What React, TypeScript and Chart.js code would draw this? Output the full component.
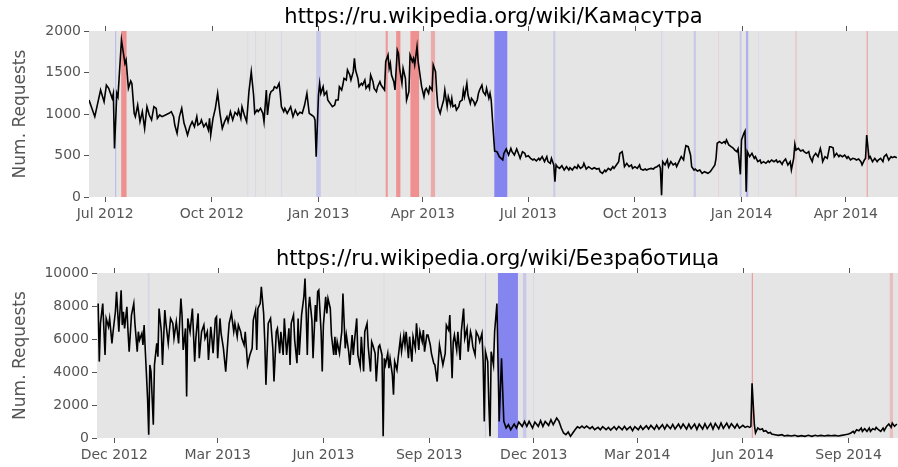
import React, { useEffect, useRef } from "react";
import { Chart, registerables } from "chart.js";

Chart.register(...registerables);

const FONT = '"DejaVu Sans", "Liberation Sans", sans-serif';

const Y_LABEL = "Num. Requests";

// ---------- top panel: days since 2012-07-01 ----------
const TOP_TITLE = "https://ru.wikipedia.org/wiki/Камасутра";
const TOP_X_RANGE = [-14, 684];
const TOP_TICK_DAYS = [0, 92, 184, 274, 365, 457, 549, 639];
const TOP_TICK_LABELS = ["Jul 2012", "Oct 2012", "Jan 2013", "Apr 2013", "Jul 2013", "Oct 2013", "Jan 2014", "Apr 2014"];
const TOP_Y_TICKS = [0, 500, 1000, 1500, 2000];
const TOP_SERIES: [number, number][] = [
  [-14, 1169], [-9, 968], [-4, 1289], [-1, 1149], [1, 1349], [3, 1309], [6, 1189], [7, 1249], [8, 586], [10, 1249],
  [11, 1209], [14, 1892], [17, 1610], [18, 1651], [20, 1309], [22, 1398], [23, 1369], [25, 1008], [26, 968], [28, 1108],
  [30, 908], [32, 1028], [34, 827], [36, 1088], [38, 988], [40, 928], [42, 1088], [44, 1068], [45, 948], [47, 988],
  [49, 968], [52, 988], [55, 1008], [57, 1028], [59, 968], [60, 867], [62, 767], [64, 968], [66, 1068], [68, 888],
  [69, 847], [71, 747], [73, 847], [75, 908], [77, 847], [79, 968], [80, 867], [82, 888], [83, 928], [85, 847],
  [87, 888], [89, 807], [90, 948], [91, 747], [93, 948], [95, 1068], [97, 1249], [99, 1008], [101, 827], [103, 908],
  [105, 968], [106, 908], [108, 1028], [110, 928], [112, 1020], [114, 988], [115, 1048], [117, 948], [118, 1088], [120, 988],
  [122, 908], [124, 1269], [126, 1510], [128, 1229], [129, 1008], [131, 1048], [132, 1028], [134, 1068], [136, 1008], [137, 908],
  [139, 1289], [140, 988], [142, 1229], [143, 1269], [145, 1289], [146, 1329], [148, 1309], [150, 1369], [151, 1249], [152, 1088],
  [154, 1028], [155, 1068], [157, 1008], [160, 1088], [162, 968], [164, 1048], [166, 988], [168, 1020], [170, 1008], [172, 1108],
  [174, 1249], [176, 1008], [178, 988], [180, 968], [181, 928], [182, 486], [184, 1229], [185, 1369], [186, 1249], [188, 1329],
  [189, 1229], [191, 1269], [192, 1169], [194, 1128], [196, 1088], [198, 1108], [199, 1169], [201, 1169], [202, 1329], [204, 1289],
  [205, 1349], [206, 1430], [208, 1410], [209, 1530], [211, 1470], [212, 1410], [214, 1510], [215, 1671], [216, 1530], [218, 1430],
  [219, 1329], [221, 1369], [222, 1349], [224, 1410], [225, 1309], [227, 1349], [228, 1309], [229, 1470], [231, 1389], [232, 1309],
  [234, 1269], [235, 1329], [237, 1389], [238, 1349], [239, 1329], [241, 1289], [242, 1631], [244, 1711], [245, 1550], [246, 1610],
  [247, 1470], [249, 1389], [250, 1289], [252, 1771], [253, 1731], [254, 1550], [256, 1369], [257, 1550], [259, 1430], [260, 1169],
  [262, 1269], [263, 1711], [265, 1631], [266, 1671], [267, 1590], [269, 1811], [270, 1631], [272, 1430], [273, 1329], [275, 1209],
  [276, 1289], [277, 1309], [279, 1249], [280, 1329], [282, 1289], [283, 1590], [285, 1510], [286, 1269], [287, 1088], [289, 1008],
  [290, 1068], [292, 1169], [293, 1289], [295, 1088], [296, 1209], [298, 1108], [299, 1189], [300, 1088], [302, 1108], [303, 1048],
  [305, 1088], [306, 1149], [308, 1169], [309, 1289], [310, 1209], [312, 1369], [313, 1229], [315, 1128], [316, 1189], [318, 1149],
  [319, 1108], [321, 1169], [322, 1249], [323, 1289], [325, 1349], [326, 1269], [328, 1229], [329, 1309], [331, 1189], [332, 1249],
  [333, 1169], [335, 747], [336, 554], [338, 546], [340, 486], [343, 446], [344, 526], [346, 578], [348, 506], [350, 586],
  [351, 546], [353, 506], [355, 578], [357, 506], [358, 466], [360, 546], [362, 526], [363, 486], [365, 498], [367, 466],
  [369, 446], [370, 458], [372, 434], [374, 466], [375, 446], [377, 486], [379, 426], [381, 486], [382, 426], [384, 406],
  [385, 466], [387, 386], [388, 185], [389, 386], [390, 365], [392, 345], [394, 377], [396, 325], [398, 365], [400, 325],
  [401, 353], [403, 325], [405, 365], [407, 345], [408, 386], [410, 345], [412, 365], [413, 406], [415, 337], [417, 365],
  [419, 345], [420, 337], [422, 353], [424, 337], [426, 345], [427, 305], [429, 285], [431, 325], [432, 305], [434, 345],
  [436, 325], [438, 365], [439, 345], [441, 386], [443, 426], [444, 526], [446, 546], [447, 466], [448, 365], [450, 406],
  [452, 365], [454, 386], [455, 345], [457, 365], [459, 345], [461, 386], [462, 337], [464, 325], [466, 337], [467, 325],
  [469, 337], [471, 345], [473, 337], [474, 353], [476, 365], [478, 386], [479, 345], [480, 20], [481, 426], [483, 386],
  [485, 446], [486, 365], [488, 426], [490, 386], [492, 406], [493, 365], [495, 426], [497, 486], [499, 446], [500, 546],
  [501, 618], [503, 606], [505, 506], [506, 365], [508, 325], [509, 337], [511, 313], [513, 325], [515, 285], [517, 305],
  [520, 285], [522, 305], [524, 345], [526, 386], [527, 466], [528, 647], [530, 667], [532, 647], [534, 667], [535, 647],
  [536, 687], [538, 627], [540, 606], [542, 586], [543, 566], [545, 546], [546, 578], [548, 273], [549, 687], [551, 767],
  [552, 795], [553, 64], [554, 546], [556, 486], [558, 526], [560, 466], [561, 486], [563, 426], [565, 446], [566, 406],
  [568, 426], [570, 406], [572, 434], [573, 418], [575, 446], [577, 426], [579, 446], [580, 418], [582, 434], [584, 394],
  [585, 426], [587, 458], [589, 386], [591, 426], [592, 325], [594, 466], [595, 635], [596, 566], [598, 586], [600, 554],
  [602, 566], [603, 546], [605, 526], [607, 546], [608, 486], [610, 426], [611, 486], [613, 526], [615, 486], [617, 586],
  [618, 526], [619, 426], [621, 486], [623, 466], [625, 606], [626, 606], [628, 594], [629, 486], [631, 526], [633, 486],
  [634, 506], [636, 486], [638, 506], [640, 466], [641, 486], [643, 446], [645, 466], [647, 458], [648, 446], [650, 458],
  [652, 426], [653, 386], [655, 446], [656, 466], [657, 747], [659, 466], [660, 486], [662, 426], [664, 466], [666, 426],
  [667, 446], [669, 466], [671, 426], [672, 486], [674, 514], [676, 446], [678, 486], [679, 474], [681, 486], [683, 474],
];
// [start day, end day, direction, score]
const TOP_BANDS: [number, number, string, number][] = [
  [8.6, 9.3, "low", 0.5], [13.8, 18.4, "high", 0.9], [122.5, 123.2, "low", 0.1], [129.3, 130.0, "low", 0.15],
  [137.8, 138.5, "low", 0.08], [151.8, 152.5, "low", 0.15], [182.0, 186.0, "low", 0.3], [215.5, 216.2, "high", 0.05],
  [242.0, 243.8, "high", 0.8], [251.0, 254.7, "high", 0.85], [263.3, 270.8, "high", 0.9], [280.9, 284.6, "high", 0.6],
  [335.7, 346.9, "low", 1.0], [386.6, 388.3, "low", 0.3], [479.8, 480.6, "low", 0.2], [507.7, 509.6, "low", 0.3],
  [528.8, 529.5, "high", 0.2], [547.4, 549.0, "low", 0.3], [552.8, 554.8, "low", 0.55], [563.2, 563.9, "low", 0.1],
  [595.2, 596.8, "high", 0.25], [657.0, 657.8, "high", 0.8],
];

// ---------- bottom panel: days since 2012-12-01 ----------
const BOTTOM_TITLE = "https://ru.wikipedia.org/wiki/Безработица";
const BOTTOM_X_RANGE = [-15, 682];
const BOTTOM_TICK_DAYS = [0, 90, 182, 274, 365, 455, 547, 639];
const BOTTOM_TICK_LABELS = ["Dec 2012", "Mar 2013", "Jun 2013", "Sep 2013", "Dec 2013", "Mar 2014", "Jun 2014", "Sep 2014"];
const BOTTOM_Y_TICKS = [0, 2000, 4000, 6000, 8000, 10000];
const BOTTOM_SERIES: [number, number][] = [
  [-14, 8152], [-13, 4630], [-12, 6945], [-10, 8152], [-8, 5033], [-7, 7247], [-5, 6744], [-4, 7247], [-2, 5737], [-1, 6442],
  [1, 7650], [2, 8857], [4, 6442], [6, 8958], [7, 6844], [8, 7650], [9, 6643], [11, 7952], [12, 6442], [13, 5234],
  [15, 7448], [17, 8152], [18, 6945], [20, 5234], [21, 6442], [22, 5939], [24, 6341], [25, 5636], [26, 6844], [27, 5334],
  [29, 2416], [30, 201], [31, 4429], [32, 4026], [34, 805], [35, 4429], [37, 5737], [38, 4932], [39, 7851], [41, 6442],
  [42, 4429], [44, 7750], [45, 6945], [47, 5737], [49, 7247], [51, 6945], [52, 6039], [54, 7046], [56, 5737], [58, 8455],
  [59, 7448], [60, 5334], [62, 6643], [63, 2516], [64, 7247], [66, 6442], [68, 7851], [70, 4630], [71, 6039], [73, 7549],
  [74, 4831], [76, 6442], [78, 6844], [79, 6039], [81, 6442], [82, 4731], [84, 6744], [85, 6039], [86, 5133], [88, 7247],
  [89, 7348], [90, 4831], [92, 7247], [93, 6341], [95, 5435], [97, 4026], [99, 6039], [100, 6945], [102, 7549], [104, 6442],
  [105, 6945], [107, 6140], [108, 6844], [110, 6442], [111, 6039], [113, 5636], [114, 6442], [116, 4429], [118, 5033], [120, 5435],
  [121, 7146], [123, 7750], [124, 5334], [125, 7851], [127, 8152], [128, 9159], [130, 7549], [131, 5838], [132, 3221], [134, 6945],
  [136, 7247], [138, 5435], [139, 3422], [141, 6442], [142, 6643], [144, 5133], [145, 6442], [147, 5033], [148, 7247], [150, 5033],
  [152, 6643], [153, 4429], [154, 6945], [156, 7448], [157, 5939], [159, 4530], [160, 7247], [161, 5033], [163, 7448], [165, 8555],
  [166, 9662], [167, 7650], [168, 5033], [169, 7750], [170, 8555], [172, 7146], [173, 4831], [175, 8052], [176, 7046], [177, 8857],
  [178, 8958], [180, 6442], [181, 4026], [182, 6844], [184, 8555], [185, 7549], [186, 8455], [188, 7851], [189, 6240], [191, 5033],
  [192, 6140], [193, 5033], [194, 5838], [196, 5133], [197, 5838], [198, 6442], [199, 8756], [201, 5435], [202, 6240], [204, 5234],
  [205, 4429], [207, 6240], [208, 5033], [209, 5838], [211, 7247], [212, 5033], [214, 4328], [215, 6140], [217, 4026], [218, 6442],
  [220, 6945], [221, 5536], [223, 4026], [224, 5838], [225, 5636], [227, 5133], [228, 3422], [230, 5536], [231, 5636], [233, 5033],
  [234, 101], [235, 4831], [236, 4429], [238, 5133], [239, 4227], [240, 4831], [242, 3825], [243, 2617], [244, 4630], [246, 4127],
  [247, 4831], [249, 6039], [250, 5234], [252, 6240], [253, 5636], [254, 6442], [256, 4831], [257, 6140], [259, 4630], [260, 6140],
  [262, 5435], [263, 6945], [265, 5334], [266, 6442], [268, 5838], [269, 6542], [270, 5234], [272, 6240], [273, 6240], [275, 5636],
  [276, 5133], [278, 4530], [279, 4429], [281, 3422], [282, 4630], [283, 5636], [285, 4831], [286, 4429], [288, 5133], [289, 6844],
  [291, 6542], [292, 7448], [294, 3623], [295, 5838], [296, 6240], [298, 5334], [299, 6442], [301, 4731], [302, 6442], [304, 7851],
  [305, 6039], [307, 6643], [308, 5234], [310, 6442], [311, 6140], [312, 5536], [314, 5033], [315, 6442], [317, 6140], [318, 5838],
  [320, 6341], [321, 4630], [322, 1007], [323, 5234], [325, 4630], [326, 2013], [327, 101], [328, 5234], [330, 4429], [331, 6442],
  [333, 8152], [334, 4429], [335, 1007], [337, 4831], [339, 1007], [341, 604], [343, 805], [345, 503], [348, 845], [350, 604],
  [352, 966], [355, 705], [357, 1007], [359, 705], [361, 1007], [364, 604], [366, 966], [369, 705], [371, 1047], [373, 705],
  [375, 1007], [378, 765], [380, 1107], [382, 805], [385, 1208], [387, 1007], [389, 604], [391, 302], [393, 201], [395, 362],
  [397, 101], [399, 302], [401, 503], [403, 684], [405, 604], [407, 725], [409, 604], [411, 725], [414, 564], [416, 684],
  [418, 503], [421, 644], [423, 503], [425, 684], [428, 503], [430, 644], [432, 483], [435, 684], [437, 503], [439, 705],
  [442, 503], [444, 705], [446, 503], [449, 684], [451, 443], [453, 684], [456, 503], [458, 725], [460, 523], [463, 745],
  [465, 543], [467, 765], [470, 523], [472, 785], [474, 543], [477, 805], [479, 543], [481, 805], [484, 563], [486, 825],
  [488, 543], [491, 845], [493, 583], [495, 845], [498, 543], [500, 845], [502, 563], [505, 845], [507, 523], [509, 845],
  [512, 543], [514, 865], [516, 563], [519, 885], [521, 543], [523, 885], [526, 563], [528, 906], [530, 583], [533, 906],
  [535, 604], [537, 865], [540, 604], [542, 845], [544, 604], [547, 765], [549, 644], [551, 705], [553, 644], [554, 705],
  [555, 3321], [557, 805], [558, 302], [560, 604], [562, 503], [564, 564], [565, 403], [567, 443],
  [569, 302], [571, 342], [572, 242], [575, 201], [578, 161], [581, 201], [583, 121], [586, 161], [589, 121], [592, 161],
  [595, 101], [598, 141], [601, 101], [604, 161], [607, 101], [610, 161], [612, 121], [615, 161], [618, 121], [621, 161],
  [624, 141], [627, 161], [630, 121], [633, 161], [636, 201], [639, 242], [641, 302], [643, 403], [644, 302], [646, 503],
  [648, 443], [650, 604], [651, 403], [653, 564], [655, 403], [657, 604], [658, 403], [660, 564], [662, 503], [663, 644],
  [665, 503], [667, 403], [669, 604], [670, 443], [672, 705], [674, 845], [676, 644], [677, 906], [679, 705], [681, 845],
];
const BOTTOM_BANDS: [number, number, string, number][] = [
  [29.0, 31.0, "low", 0.12], [234.4, 235.0, "low", 0.1], [322.6, 323.3, "low", 0.25], [333.9, 351.3, "low", 1.0],
  [355.6, 358.6, "low", 0.3], [364.3, 365.0, "low", 0.15], [554.8, 555.4, "high", 0.9], [674.8, 677.7, "high", 0.4],
];

type PanelProps = {
  title: string;
  series: [number, number][];
  bands: [number, number, string, number][];
  xRange: number[];
  tickDays: number[];
  tickLabels: string[];
  yTicks: number[];
  height: number;
  padTop: number;
  yAxisWidth: number;
  xAxisHeight: number;
  titleBaseline: number;
};

function Panel(p: PanelProps) {
  const ref = useRef<HTMLCanvasElement | null>(null);
  useEffect(() => {
    if (!ref.current) return;
    const decor = {
      id: "panelDecor",
      beforeDatasetsDraw(chart: any) {
        const { ctx, chartArea: a, scales } = chart;
        ctx.save();
        ctx.fillStyle = "#E5E5E5";
        ctx.fillRect(a.left, a.top, a.right - a.left, a.bottom - a.top);
        for (const [s, e, dir, score] of p.bands) {
          let x1 = scales.x.getPixelForValue(s);
          let x2 = scales.x.getPixelForValue(e);
          x1 = Math.max(x1, a.left);
          x2 = Math.min(x2, a.right);
          const alpha = 0.42 * score;
          ctx.fillStyle = dir === "high" ? `rgba(255,0,0,${alpha})` : `rgba(0,0,255,${alpha})`;
          ctx.fillRect(x1, a.top, Math.max(1, x2 - x1), a.bottom - a.top);
        }
        ctx.restore();
      },
      afterDraw(chart: any) {
        const { ctx, chartArea: a, scales } = chart;
        ctx.save();
        ctx.strokeStyle = "#555";
        ctx.lineWidth = 1;
        for (const v of p.tickDays) {
          const px = Math.round(scales.x.getPixelForValue(v)) + 0.5;
          ctx.beginPath();
          ctx.moveTo(px, a.top - 5);
          ctx.lineTo(px, a.top);
          ctx.stroke();
        }
        ctx.fillStyle = "#000";
        ctx.font = `21px ${FONT}`;
        ctx.textAlign = "center";
        ctx.textBaseline = "alphabetic";
        ctx.fillText(p.title, (a.left + a.right) / 2, p.titleBaseline);
        ctx.translate(21, (a.top + a.bottom) / 2);
        ctx.rotate(-Math.PI / 2);
        ctx.font = `17px ${FONT}`;
        ctx.fillStyle = "#555";
        ctx.textBaseline = "middle";
        ctx.fillText(Y_LABEL, 0, 0);
        ctx.restore();
      },
    };
    const chart = new Chart(ref.current, {
      type: "line",
      data: {
        datasets: [
          {
            data: p.series.map(([d, v]) => ({ x: d, y: v })),
            borderColor: "#000",
            borderWidth: 1.6,
            pointRadius: 0,
            tension: 0,
            fill: false,
          },
        ],
      },
      options: {
        responsive: false,
        animation: false,
        events: [],
        layout: { padding: { top: p.padTop, left: 0, right: 0, bottom: 0 } },
        plugins: { legend: { display: false }, tooltip: { enabled: false }, title: { display: false } },
        scales: {
          x: {
            type: "linear",
            min: p.xRange[0],
            max: p.xRange[1],
            afterBuildTicks: (s: any) => {
              s.ticks = p.tickDays.map((v) => ({ value: v }));
            },
            afterFit: (s: any) => {
              s.height = p.xAxisHeight;
            },
            ticks: {
              autoSkip: false,
              maxRotation: 0,
              minRotation: 0,
              color: "#555",
              font: { family: FONT, size: 14 },
              padding: 4,
              callback: (_v: any, i: number) => p.tickLabels[i],
            },
            grid: { drawOnChartArea: false, drawTicks: true, tickLength: 5, color: "#555" },
            border: { display: false },
          },
          y: {
            type: "linear",
            min: p.yTicks[0],
            max: p.yTicks[p.yTicks.length - 1],
            afterBuildTicks: (s: any) => {
              s.ticks = p.yTicks.map((v) => ({ value: v }));
            },
            afterFit: (s: any) => {
              s.width = p.yAxisWidth;
            },
            ticks: {
              color: "#555",
              font: { family: FONT, size: 14 },
              padding: 3,
              callback: (v: any) => String(v),
            },
            grid: { drawOnChartArea: false, drawTicks: true, tickLength: 5, color: "#555" },
            border: { display: false },
          },
        },
      },
      plugins: [decor],
    } as any);
    return () => chart.destroy();
  }, []);
  return <canvas ref={ref} width={898} height={p.height} style={{ display: "block", width: 898, height: p.height }} />;
}

export default function App() {
  return (
    <div style={{ position: "absolute", left: 0, top: 0, width: 898, height: 467, background: "#fff" }}>
      <Panel
        title={TOP_TITLE}
        series={TOP_SERIES}
        bands={TOP_BANDS}
        xRange={TOP_X_RANGE}
        tickDays={TOP_TICK_DAYS}
        tickLabels={TOP_TICK_LABELS}
        yTicks={TOP_Y_TICKS}
        height={233}
        padTop={31}
        yAxisWidth={89}
        xAxisHeight={36}
        titleBaseline={23}
      />
      <Panel
        title={BOTTOM_TITLE}
        series={BOTTOM_SERIES}
        bands={BOTTOM_BANDS}
        xRange={BOTTOM_X_RANGE}
        tickDays={BOTTOM_TICK_DAYS}
        tickLabels={BOTTOM_TICK_LABELS}
        yTicks={BOTTOM_Y_TICKS}
        height={234}
        padTop={40}
        yAxisWidth={97}
        xAxisHeight={29}
        titleBaseline={32}
      />
    </div>
  );
}
